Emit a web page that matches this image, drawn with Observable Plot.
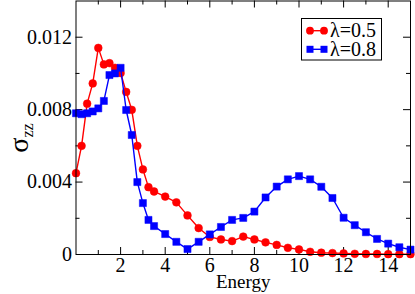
<!DOCTYPE html>
<html><head><meta charset="utf-8">
<script src="https://cdn.jsdelivr.net/npm/d3@7"></script>
<script src="https://cdn.jsdelivr.net/npm/@observablehq/plot@0.6"></script>
<style>
body{margin:0;background:#fff;}
#wrap{position:relative;width:415px;height:294px;}
#wrap svg, #wrap svg text{font-family:"Liberation Serif","DejaVu Serif",serif !important;}
</style>
</head><body>
<div id="wrap"></div>
<script>
// ---- data ----
const energy = [0,0.25,0.5,0.75,1,1.25,1.5,1.75,2,2.25,2.5,2.75,3,3.25,3.5,
  4,4.5,5,5.5,6,6.5,7,7.5,8,8.5,9,9.5,10,10.5,11,11.5,12,12.5,13,13.5,14,14.5,15];
const sigmaL05 = [0.00449,0.0060,0.00833,0.00945,0.01141,0.01050,0.01057,0.01031,0.01002,0.00898,0.00799,0.0060,0.0047,0.00372,0.00348,
  0.0032,0.00288,0.00216,0.00146,0.00097,0.00083,0.00074,0.00099,0.00083,0.00067,0.00053,0.00037,0.00028,0.00015,0.0001,0.00008,0.00006,0.00004,0.00003,0.00003,0.00002,0.00002,0.00002];
const sigmaL08 = [0.0078,0.00775,0.0078,0.0079,0.00807,0.00848,0.00991,0.0100,0.01031,0.00798,0.0066,0.0040,0.00284,0.00191,0.00157,
  0.00113,0.0007,0.0003,0.0007,0.00111,0.00152,0.00191,0.00202,0.00237,0.00315,0.00375,0.00415,0.00433,0.00415,0.00374,0.00312,0.00203,0.00162,0.00123,0.00086,0.0006,0.0004,0.00027];
const seriesNames = ["λ=0.5","λ=0.8"];
const xTickLabels = [2,4,6,8,10,12,14];
const xMinorTicks = [1,3,5,7,9,11,13];
const yTickLabels = [0,0.004,0.008,0.012];
const yMajorTicks = [0.004,0.008,0.012];
const yMinorTicks = [0.002,0.006,0.010];

const rows05 = energy.map((e,i)=>({e, v:sigmaL05[i]}));
const rows08 = energy.map((e,i)=>({e, v:sigmaL08[i]}));

const FONT = '"Liberation Serif","DejaVu Serif",serif';
const mL=75.5, mR=5, mT=0.5, mB=40, W=415, H=294;
const innerW = W-mL-mR, innerH = H-mT-mB;
const major=7, minor=4;

const chart = Plot.plot({
  width:W, height:H,
  marginLeft:mL, marginRight:mR, marginTop:mT, marginBottom:mB,
  x:{domain:[0,15]},
  y:{domain:[0,0.014]},
  style:{fontFamily:FONT, fontSize:"20px", color:"#000", background:"#fff"},
  marks:[
    // inward ticks
    Plot.ruleX(xTickLabels,{x:d=>d, insetTop:innerH-major, stroke:"#000"}),
    Plot.ruleX(xMinorTicks,{x:d=>d, insetTop:innerH-minor, stroke:"#000"}),
    Plot.ruleX(xTickLabels,{x:d=>d, insetBottom:innerH-major, stroke:"#000"}),
    Plot.ruleX(xMinorTicks,{x:d=>d, insetBottom:innerH-minor, stroke:"#000"}),
    Plot.ruleY(yMajorTicks,{y:d=>d, insetRight:innerW-major, stroke:"#000"}),
    Plot.ruleY(yMinorTicks,{y:d=>d, insetRight:innerW-minor, stroke:"#000"}),
    Plot.ruleY(yMajorTicks,{y:d=>d, insetLeft:innerW-major, stroke:"#000"}),
    Plot.ruleY(yMinorTicks,{y:d=>d, insetLeft:innerW-minor, stroke:"#000"}),
    Plot.axisX(xTickLabels,{anchor:"bottom", tickSize:0, tickPadding:3, label:null, tickFormat:d=>String(d), fontFamily:FONT, fontSize:20}),
    Plot.axisY(yTickLabels,{anchor:"left", tickSize:0, tickPadding:4, label:null, tickFormat:d=>String(d), fontFamily:FONT, fontSize:20}),
    Plot.text(["Energy"],{frameAnchor:"bottom", dy:33, fontSize:19, fontFamily:FONT}),
    // series
    Plot.line(rows05,{x:"e", y:"v", stroke:"#ff0000", strokeWidth:1.4}),
    Plot.dot(rows05,{x:"e", y:"v", r:3.9, fill:"#ff0000", stroke:"#ff0000", strokeWidth:0.5}),
    Plot.line(rows08,{x:"e", y:"v", stroke:"#0000ff", strokeWidth:1.4}),
    Plot.dot(rows08,{x:"e", y:"v", r:4, symbol:"square", fill:"#0000ff", stroke:"#0000ff", strokeWidth:0.5}),
    Plot.frame({stroke:"#000", strokeWidth:1})
  ]
});
document.getElementById("wrap").appendChild(chart);

const svg = d3.select(chart);
// y axis label σ_zz
const yl = svg.append("text")
  .attr("transform","translate(28,138) rotate(-90)")
  .attr("text-anchor","middle")
  .style("font-family",FONT)
  .attr("fill","#000");
yl.append("tspan").attr("font-size","28px").text("σ");
yl.append("tspan").attr("font-size","16px").attr("dy","5").text("zz");

// legend
const lg = svg.append("g").style("font-family",FONT).attr("text-anchor","start");
lg.append("rect").attr("x",301.5).attr("y",18.5).attr("width",80).attr("height",41.5)
  .attr("fill","#fff").attr("stroke","#000").attr("stroke-width",1);
const colors=["#ff0000","#0000ff"], ys=[30.7,49.3];
seriesNames.forEach((name,i)=>{
  const y=ys[i];
  lg.append("line").attr("x1",310).attr("x2",324).attr("y1",y).attr("y2",y).attr("stroke",colors[i]).attr("stroke-width",1.4);
  [310,324].forEach(cx=>{
    if(i===0) lg.append("circle").attr("cx",cx).attr("cy",y).attr("r",3.9).attr("fill",colors[i]);
    else lg.append("rect").attr("x",cx-3.5).attr("y",y-3.5).attr("width",7).attr("height",7).attr("fill",colors[i]);
  });
  lg.append("text").attr("x",330).attr("y",y+6.5).attr("font-size","20px").attr("fill","#000").attr("text-anchor","start").text(name);
});
</script>
</body></html>
